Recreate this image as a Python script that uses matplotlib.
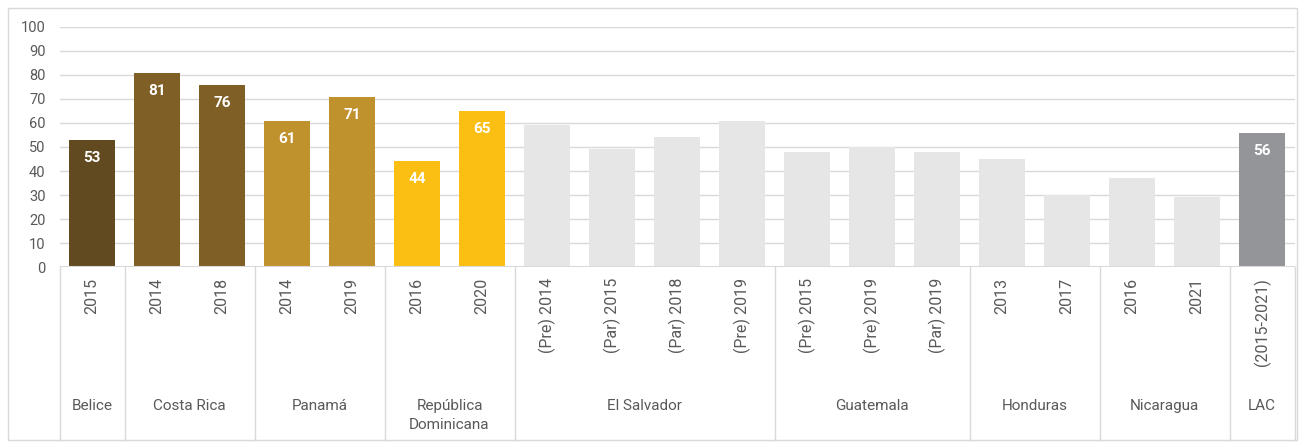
import matplotlib.pyplot as plt
from matplotlib.patches import Rectangle

plt.rcParams['font.family'] = ['Roboto', 'DejaVu Sans']

# one entry per country group
groups = ['Belice', 'Costa Rica', 'Panamá', 'República\nDominicana', 'El Salvador',
          'Guatemala', 'Honduras', 'Nicaragua', 'LAC']
years = [
    ['2015'],
    ['2014', '2018'],
    ['2014', '2019'],
    ['2016', '2020'],
    ['(Pre) 2014', '(Par) 2015', '(Par) 2018', '(Pre) 2019'],
    ['(Pre) 2015', '(Pre) 2019', '(Par) 2019'],
    ['2013', '2017'],
    ['2016', '2021'],
    ['(2015-2021)'],
]
values = [
    [53],
    [81, 76],
    [61, 71],
    [44, 65],
    [59, 49, 54, 61],
    [48, 50, 48],
    [45, 30],
    [37, 29],
    [56],
]
group_colors = ['#614a1f', '#7f5f25', '#c0922e', '#fbbf14', '#e6e6e6',
                '#e6e6e6', '#e6e6e6', '#e6e6e6', '#939598']
labelled = [True, True, True, True, False, False, False, False, True]

fig = plt.figure(figsize=(13.02, 4.44), dpi=100)
fig.patches.append(Rectangle((8 / 1302, 4 / 444), 1289 / 1302, 432 / 444,
                             transform=fig.transFigure, fill=False,
                             edgecolor='#d9d9d9', linewidth=1))
ax = fig.add_axes([59.5 / 1302, 177 / 444, 1235 / 1302, 240 / 444])

grid_c = '#d9d9d9'
text_c = '#595959'
xt = ax.get_xaxis_transform()

pos = 0
for g, name in enumerate(groups):
    start = pos
    for yr, v in zip(years[g], values[g]):
        ax.bar(pos, v, width=0.72, color=group_colors[g], zorder=2)
        if labelled[g]:
            ax.annotate(str(v), (pos, v), xytext=(0, -13), textcoords='offset points',
                        ha='center', va='center', color='white', fontsize=11,
                        fontweight='bold', zorder=3)
        ax.text(pos, -0.045, yr, transform=xt, rotation=90,
                ha='center', va='top', color=text_c, fontsize=11.5)
        pos += 1
    mid = (start + pos - 1) / 2
    ax.text(mid, -0.548, name, transform=xt, ha='center', va='top',
            color=text_c, fontsize=11, linespacing=1.5)
    ax.plot([start - 0.5, start - 0.5], [0, -0.72], transform=xt,
            color=grid_c, linewidth=1, clip_on=False)
ax.plot([pos - 0.5, pos - 0.5], [0, -0.72], transform=xt,
        color=grid_c, linewidth=1, clip_on=False)

ax.set_xlim(-0.5, pos - 0.5)
ax.set_ylim(0, 100)
ax.set_yticks(range(0, 101, 10))
ax.set_xticks([])
ax.tick_params(axis='y', length=0, labelsize=10.5, labelcolor=text_c, pad=10)
ax.yaxis.grid(True, color=grid_c, linewidth=1, zorder=0)
ax.set_axisbelow(True)
ax.axhline(0, color=grid_c, linewidth=1.5, zorder=4)
for s in ax.spines.values():
    s.set_visible(False)

fig.savefig('out.png', dpi=100)
